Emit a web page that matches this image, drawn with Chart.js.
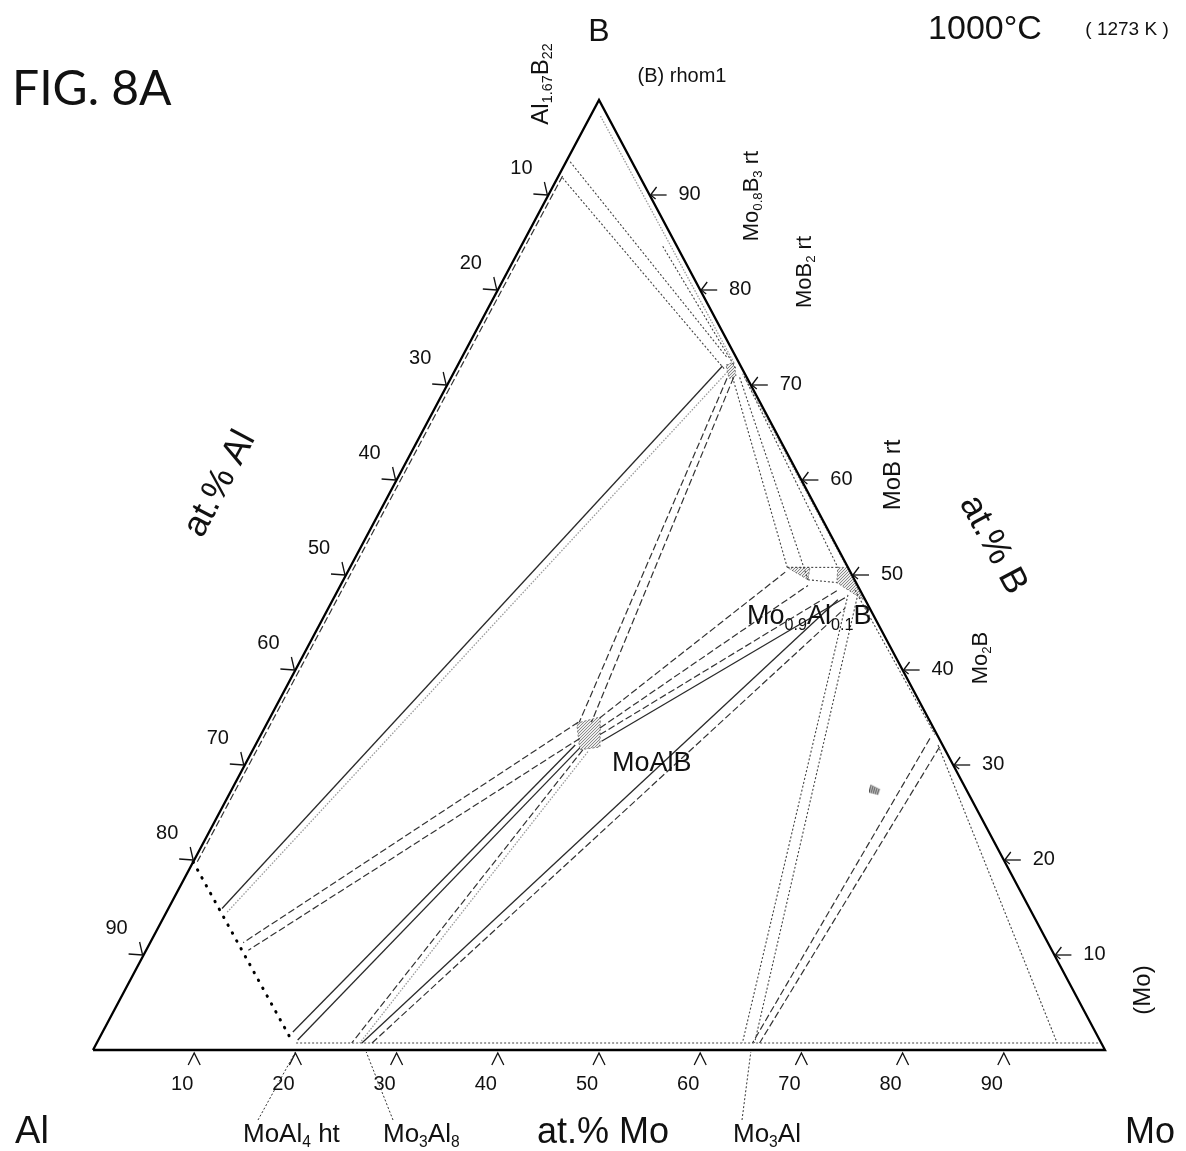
<!DOCTYPE html>
<html><head><meta charset="utf-8">
<script src="https://cdn.jsdelivr.net/npm/chart.js@4.4.0/dist/chart.umd.min.js"></script>
<style>html,body{margin:0;padding:0;background:#fff;}#wrap{width:1186px;height:1151px;}</style>
</head><body><div id="wrap"><canvas id="c" width="1186" height="1151"></canvas></div>
<script>
// All compositions are [at.% Mo, at.% B]  (at.% Al = 100 - Mo - B)
const axisTicks = [10, 20, 30, 40, 50, 60, 70, 80, 90];
const triangleCorners = [[0, 0], [100, 0], [0, 100], [0, 0]];
const liquidBoundary = [[0, 19.8], [19.4, 0.74]];

const tlBorideToMoB2 = [[[0.4, 93.5], [26.2, 72.9]], [[0.5, 91.8], [26.65, 71.6]]];
const tlAlBEdge = [[[0.4, 92.0], [0.4, 19.8]]];
const tlBMoB2Edge = [[[1.0, 98.3], [27.2, 72.3]], [[14, 84.6], [27.8, 71.6]]];
const tlMoB2Liquid = [[[26.2, 72.0], [5.3, 14.9]], [[27.0, 71.4], [6.0, 14.5]]];
const tlMoB2MoAlB = [[[27.3, 70.7], [30.8, 34.5]], [[27.9, 70.8], [32.0, 34.5]]];
const tlMoB2MoB = [[[27.8, 70.8], [43.2, 50.8]], [[28.5, 70.8], [45.9, 49.5]], [[28.9, 70.9], [48.2, 50.8]], [[28.6, 71.2], [49.0, 50.9]]];
const tlMoBRegion = [[[43.2, 50.8], [48.2, 50.8]], [[45.9, 49.5], [48.9, 49.2]]];
const tlMoAlBLiquid = [[[30.7, 34.5], [9.2, 11.3]], [[31.7, 32.8], [10.1, 10.5]]];
const tlMoAlBMoAl4 = [[[31.6, 32.1], [18.8, 1.9]], [[32.2, 31.8], [19.7, 1.05]]];
const tlMoAlBMo3Al8 = [[[32.6, 31.6], [25.2, 0.74]], [[33.2, 31.4], [26.0, 0.74]]];
const tlMo3Al8MoB = [[[26.2, 0.74], [49.9, 47.4]], [[27.2, 0.74], [51.05, 46.5]]];
const tlMoAlBMoB = [[[32.6, 34.95], [43.25, 50.3]], [[33.15, 33.9], [46.2, 48.9]], [[33.5, 33.2], [49.4, 48.4]], [[34.0, 32.5], [50.5, 47.6]]];
const tlMoBMo3Al = [[[50.65, 47.9], [63.8, 0.74]], [[51.7, 47.6], [65.0, 0.74]]];
const tlMo2BMo3Al = [[[66.3, 32.8], [64.8, 0.74]], [[67.7, 31.9], [65.5, 0.74]]];
const tlMo2BMo = [[[67.45, 32.1], [94.9, 0.74]]];
const tlMoBMo2B = [[[51.1, 48.4], [66.6, 33.2]]];
const tlMoSolvus = [[[19.7, 0.74], [99.2, 0.74]]];

const phMoAlB = [[30.6, 34.4], [32.6, 35.05], [34.15, 31.9], [32.3, 31.6]];
const phMoB2 = [[26.5, 72.1], [27.1, 72.4], [28.1, 70.9], [27.5, 70.7]];
const phMoBLeft = [[43.2, 50.8], [45.45, 50.8], [45.9, 49.5]];
const phMoBRight = [[48.2, 50.8], [49.2, 50.8], [52.4, 47.4], [48.9, 49.2]];
const hatchSpot = [[63.6, 27.4]];

// phases on the Al-Mo edge pointed to by labels (at.% Mo)
const bottomPhaseNames = ['MoAl4 ht', 'Mo3Al8', 'Mo3Al'];
const bottomPhaseMo = [20, 27, 65];

// ---------- helpers ----------
const toXY = ([mo, b]) => ({ x: mo + b / 2, y: b });
const FONT = '"Liberation Sans", Arial, sans-serif';

const STY = {
  solid: { borderColor: '#2a2a2a', borderWidth: 1.3 },
  dashed: { borderColor: '#333', borderWidth: 1.2, borderDash: [7, 3] },
  dotted: { borderColor: '#444', borderWidth: 1.1, borderDash: [2, 2] },
  gray: { borderColor: '#9a9a9a', borderWidth: 1.3, borderDash: [1.5, 1.5] }
};

const groups = [
  [tlBorideToMoB2, ['dotted', 'dotted']],
  [tlAlBEdge, ['dashed']],
  [tlBMoB2Edge, ['gray', 'dotted']],
  [tlMoB2Liquid, ['solid', 'gray']],
  [tlMoB2MoAlB, ['dashed', 'dashed']],
  [tlMoB2MoB, ['dotted', 'dotted', 'dotted', 'gray']],
  [tlMoBRegion, ['dotted', 'dotted']],
  [tlMoAlBLiquid, ['dashed', 'dashed']],
  [tlMoAlBMoAl4, ['solid', 'solid']],
  [tlMoAlBMo3Al8, ['dashed', 'gray']],
  [tlMo3Al8MoB, ['solid', 'dashed']],
  [tlMoAlBMoB, ['dashed', 'dashed', 'dashed', 'solid']],
  [tlMoBMo3Al, ['dotted', 'dotted']],
  [tlMo2BMo3Al, ['dashed', 'dashed']],
  [tlMo2BMo, ['dotted']],
  [tlMoBMo2B, ['dotted']],
  [tlMoSolvus, ['dotted']]
];

// stipple pattern for single-phase regions
const pc = document.createElement('canvas'); pc.width = 3; pc.height = 3;
const pctx = pc.getContext('2d');
pctx.fillStyle = '#ededed'; pctx.fillRect(0, 0, 3, 3);
pctx.fillStyle = '#8a8a8a'; pctx.fillRect(0, 0, 1, 1); pctx.fillRect(2, 1, 1, 1); pctx.fillRect(1, 2, 1, 1);
const stipple = pctx.createPattern(pc, 'repeat');

// hatch marker
const hc = document.createElement('canvas'); hc.width = 12; hc.height = 12;
const hctx = hc.getContext('2d'); hctx.strokeStyle = '#444'; hctx.lineWidth = 1.2;
for (let i = 0; i < 5; i++) { hctx.beginPath(); hctx.moveTo(2 + i * 2, 1 + i); hctx.lineTo(0 + i * 2, 9 + i * 0.5); hctx.stroke(); }

const datasets = [];
datasets.push({ data: triangleCorners.map(toXY), borderColor: '#000', borderWidth: 2.3 });
datasets.push({ data: liquidBoundary.map(toXY), borderColor: '#000', borderWidth: 3, borderDash: [0.5, 8.5], borderCapStyle: 'round' });
groups.forEach(([segs, styles]) => segs.forEach((seg, i) => {
  datasets.push(Object.assign({ data: seg.map(toXY) }, STY[styles[i]]));
}));
[phMoAlB, phMoB2, phMoBLeft, phMoBRight].forEach(poly => {
  datasets.push({ data: poly.concat([poly[0]]).map(toXY), borderColor: '#555', borderWidth: 0.8, borderDash: [2, 2], backgroundColor: stipple, fill: 'shape' });
});
datasets.push({ data: hatchSpot.map(toXY), showLine: false, pointRadius: 6, pointStyle: hc });
datasets.forEach(d => { d.pointRadius = d.pointRadius || 0; d.tension = 0; d.clip = false; if (d.fill === undefined) d.fill = false; d.showLine = d.showLine !== false; });

function rich(ctx, runs, x, y, size, opts = {}) {
  const sub = size * 0.6;
  ctx.save();
  ctx.translate(x, y);
  if (opts.rot) ctx.rotate(opts.rot);
  ctx.textBaseline = 'middle';
  ctx.fillStyle = '#111';
  let w = 0;
  runs.forEach(r => { ctx.font = (r[1] ? sub : size) + 'px ' + (opts.font || FONT); w += ctx.measureText(r[0]).width; });
  let cx = opts.align === 'left' ? 0 : -w / 2;
  runs.forEach(r => {
    ctx.font = (r[1] ? sub : size) + 'px ' + (opts.font || FONT);
    ctx.fillText(r[0], cx, r[1] ? size * 0.3 : 0);
    cx += ctx.measureText(r[0]).width;
  });
  ctx.restore();
}

const decor = {
  id: 'decor',
  beforeDraw(chart) { const c = chart.ctx; c.save(); c.fillStyle = '#fff'; c.fillRect(0, 0, chart.width, chart.height); c.restore(); },
  afterDraw(chart) {
    const ctx = chart.ctx, xs = chart.scales.x, ys = chart.scales.y;
    const P = (mo, b) => [xs.getPixelForValue(mo + b / 2), ys.getPixelForValue(b)];
    ctx.save();
    ctx.strokeStyle = '#111'; ctx.lineWidth = 1.3;
    axisTicks.forEach(v => {
      // bottom (at.% Mo)
      let [px, py] = P(v, 0);
      ctx.beginPath(); ctx.moveTo(px - 6, py + 15); ctx.lineTo(px, py + 3); ctx.lineTo(px + 6, py + 15); ctx.stroke();
      rich(ctx, [[String(v)]], px - 12, py + 34, 20);
      // right (at.% B)
      [px, py] = P(100 - v, v);
      ctx.beginPath(); ctx.moveTo(px + 1, py); ctx.lineTo(px + 17, py); ctx.stroke();
      ctx.beginPath(); ctx.moveTo(px + 7, py - 8); ctx.lineTo(px + 1, py); ctx.lineTo(px + 6, py + 4); ctx.stroke();
      rich(ctx, [[String(v)]], px + 40, py - 1, 20);
      // left (at.% Al)
      [px, py] = P(0, 100 - v);
      ctx.beginPath(); ctx.moveTo(px - 15, py - 1); ctx.lineTo(px - 1, py); ctx.stroke();
      ctx.beginPath(); ctx.moveTo(px - 4, py - 13); ctx.lineTo(px - 1, py); ctx.stroke();
      rich(ctx, [[String(v)]], px - 27, py - 27, 20);
    });
    // leader lines to Al-Mo edge phases
    const labelAnchors = [[258, 1120], [393, 1120], [742, 1120]];
    ctx.strokeStyle = '#333'; ctx.lineWidth = 1; ctx.setLineDash([2, 2]);
    bottomPhaseMo.forEach((m, i) => {
      const [px, py] = P(m, 0);
      ctx.beginPath(); ctx.moveTo(labelAnchors[i][0], labelAnchors[i][1]); ctx.lineTo(px, py + 2); ctx.stroke();
    });
    ctx.setLineDash([]);
    // titles and labels
    rich(ctx, [['FIG. 8A']], 12, 90, 48, { align: 'left', font: 'Lato, "Open Sans", sans-serif' });
    rich(ctx, [['1000°C']], 985, 30, 34);
    rich(ctx, [['( 1273 K )']], 1127, 30, 19);
    rich(ctx, [['B']], 599, 32, 32);
    rich(ctx, [['(B) rhom1']], 682, 76, 20);
    rich(ctx, [['Al'], ['1.67', 1], ['B'], ['22', 1]], 541, 84, 24, { rot: -Math.PI / 2 });
    rich(ctx, [['Mo'], ['0.8', 1], ['B'], ['3', 1], [' rt']], 752, 196, 22, { rot: -Math.PI / 2 });
    rich(ctx, [['MoB'], ['2', 1], [' rt']], 805, 272, 22, { rot: -Math.PI / 2 });
    rich(ctx, [['MoB rt']], 893, 475, 24, { rot: -Math.PI / 2 });
    rich(ctx, [['Mo'], ['2', 1], ['B']], 981, 658, 22, { rot: -Math.PI / 2 });
    rich(ctx, [['(Mo)']], 1143, 990, 24, { rot: -Math.PI / 2 });
    rich(ctx, [['at.% Al']], 220, 484, 36, { rot: -62 * Math.PI / 180 });
    rich(ctx, [['at.% B']], 993, 545, 36, { rot: 62 * Math.PI / 180 });
    rich(ctx, [['Mo'], ['0.9', 1], ['Al'], ['0.1', 1], ['B']], 747, 617, 27, { align: 'left' });
    rich(ctx, [['MoAlB']], 612, 764, 27, { align: 'left' });
    rich(ctx, [['Al']], 32, 1133, 38);
    rich(ctx, [['Mo']], 1150, 1133, 36);
    rich(ctx, [['at.% Mo']], 603, 1133, 36);
    rich(ctx, [['MoAl'], ['4', 1], [' ht']], 243, 1135, 26, { align: 'left' });
    rich(ctx, [['Mo'], ['3', 1], ['Al'], ['8', 1]], 383, 1135, 26, { align: 'left' });
    rich(ctx, [['Mo'], ['3', 1], ['Al']], 733, 1135, 26, { align: 'left' });
    ctx.restore();
  }
};

new Chart(document.getElementById('c'), {
  type: 'line',
  data: { datasets },
  options: {
    responsive: false, animation: false, events: [],
    layout: { padding: { left: 93, right: 81, top: 100, bottom: 101 } },
    plugins: { legend: { display: false }, tooltip: { enabled: false } },
    scales: {
      x: { type: 'linear', min: 0, max: 100, display: false },
      y: { type: 'linear', min: 0, max: 100, display: false }
    }
  },
  plugins: [decor]
});
</script></body></html>
